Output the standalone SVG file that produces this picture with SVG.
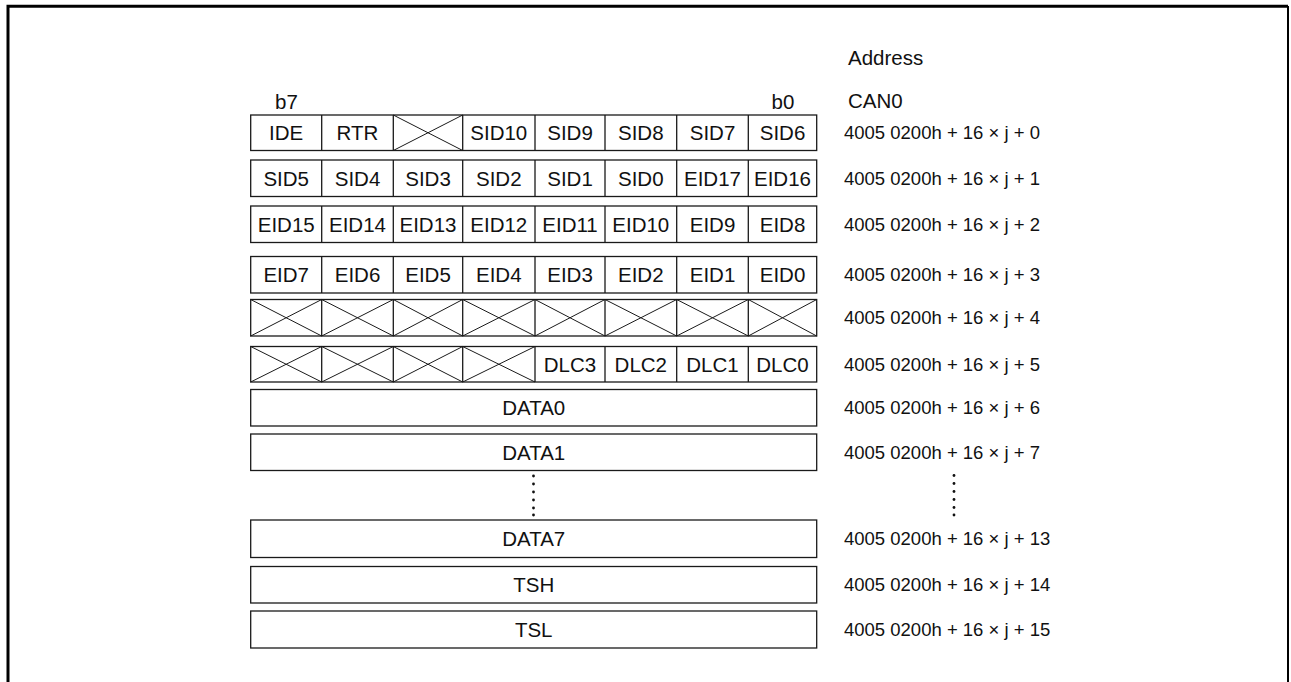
<svg xmlns="http://www.w3.org/2000/svg" width="1291" height="682" viewBox="0 0 1291 682">
<style>
.c{fill:none;stroke:#1a1a1a;stroke-width:1.3}
.x{fill:none;stroke:#1a1a1a;stroke-width:1}
.t{font-family:"Liberation Sans",Arial,sans-serif;font-size:20.5px;fill:#111;text-anchor:middle}
.l{font-family:"Liberation Sans",Arial,sans-serif;font-size:20.5px;fill:#111}
.a{font-family:"Liberation Sans",Arial,sans-serif;font-size:18.5px;fill:#111}
.d{fill:#111}
</style>
<rect width="1291" height="682" fill="#fff"/>
<g id="frame">
<path d="M8 690 V6.3 H1288" fill="none" stroke="#000" stroke-width="3"/>
<path d="M1288 6 V690" fill="none" stroke="#000" stroke-width="2"/>
</g>
<g id="headers">
<text class="l" x="275" y="109">b7</text>
<text class="l" x="771.5" y="109">b0</text>
<text class="l" x="848" y="64.5">Address</text>
<text class="l" x="848" y="107.5">CAN0</text>
</g>
<g id="row0">
<rect class="c" x="250.7" y="115" width="566" height="35.5"/>
<path class="c" d="M321.7 115V150.5M393.3 115V150.5M462.7 115V150.5M535 115V150.5M605 115V150.5M676.7 115V150.5M748.3 115V150.5"/>
<path class="x" d="M393.3 115L462.7 150.5M393.3 150.5L462.7 115"/>
<text class="t" y="140.1"><tspan x="286.2">IDE</tspan><tspan x="357.5">RTR</tspan><tspan x="498.8">SID10</tspan><tspan x="570">SID9</tspan><tspan x="640.8">SID8</tspan><tspan x="712.5">SID7</tspan><tspan x="782.5">SID6</tspan></text>
<text class="a" x="844" y="139.3">4005 0200h + 16 × j + 0</text>
</g>
<g id="row1">
<rect class="c" x="250.7" y="160" width="566" height="36.5"/>
<path class="c" d="M321.7 160V196.5M393.3 160V196.5M462.7 160V196.5M535 160V196.5M605 160V196.5M676.7 160V196.5M748.3 160V196.5"/>
<text class="t" y="185.6"><tspan x="286.2">SID5</tspan><tspan x="357.5">SID4</tspan><tspan x="428">SID3</tspan><tspan x="498.8">SID2</tspan><tspan x="570">SID1</tspan><tspan x="640.8">SID0</tspan><tspan x="712.5">EID17</tspan><tspan x="782.5">EID16</tspan></text>
<text class="a" x="844" y="184.8">4005 0200h + 16 × j + 1</text>
</g>
<g id="row2">
<rect class="c" x="250.7" y="206" width="566" height="36.5"/>
<path class="c" d="M321.7 206V242.5M393.3 206V242.5M462.7 206V242.5M535 206V242.5M605 206V242.5M676.7 206V242.5M748.3 206V242.5"/>
<text class="t" y="231.6"><tspan x="286.2">EID15</tspan><tspan x="357.5">EID14</tspan><tspan x="428">EID13</tspan><tspan x="498.8">EID12</tspan><tspan x="570">EID11</tspan><tspan x="640.8">EID10</tspan><tspan x="712.5">EID9</tspan><tspan x="782.5">EID8</tspan></text>
<text class="a" x="844" y="230.8">4005 0200h + 16 × j + 2</text>
</g>
<g id="row3">
<rect class="c" x="250.7" y="256.5" width="566" height="36.5"/>
<path class="c" d="M321.7 256.5V293M393.3 256.5V293M462.7 256.5V293M535 256.5V293M605 256.5V293M676.7 256.5V293M748.3 256.5V293"/>
<text class="t" y="282.1"><tspan x="286.2">EID7</tspan><tspan x="357.5">EID6</tspan><tspan x="428">EID5</tspan><tspan x="498.8">EID4</tspan><tspan x="570">EID3</tspan><tspan x="640.8">EID2</tspan><tspan x="712.5">EID1</tspan><tspan x="782.5">EID0</tspan></text>
<text class="a" x="844" y="281.3">4005 0200h + 16 × j + 3</text>
</g>
<g id="row4">
<rect class="c" x="250.7" y="299.5" width="566" height="36.5"/>
<path class="c" d="M321.7 299.5V336M393.3 299.5V336M462.7 299.5V336M535 299.5V336M605 299.5V336M676.7 299.5V336M748.3 299.5V336"/>
<path class="x" d="M250.7 299.5L321.7 336M250.7 336L321.7 299.5M321.7 299.5L393.3 336M321.7 336L393.3 299.5M393.3 299.5L462.7 336M393.3 336L462.7 299.5M462.7 299.5L535 336M462.7 336L535 299.5M535 299.5L605 336M535 336L605 299.5M605 299.5L676.7 336M605 336L676.7 299.5M676.7 299.5L748.3 336M676.7 336L748.3 299.5M748.3 299.5L816.7 336M748.3 336L816.7 299.5"/>
<text class="a" x="844" y="324.3">4005 0200h + 16 × j + 4</text>
</g>
<g id="row5">
<rect class="c" x="250.7" y="346.5" width="566" height="35.5"/>
<path class="c" d="M321.7 346.5V382M393.3 346.5V382M462.7 346.5V382M535 346.5V382M605 346.5V382M676.7 346.5V382M748.3 346.5V382"/>
<path class="x" d="M250.7 346.5L321.7 382M250.7 382L321.7 346.5M321.7 346.5L393.3 382M321.7 382L393.3 346.5M393.3 346.5L462.7 382M393.3 382L462.7 346.5M462.7 346.5L535 382M462.7 382L535 346.5"/>
<text class="t" y="371.6"><tspan x="570">DLC3</tspan><tspan x="640.8">DLC2</tspan><tspan x="712.5">DLC1</tspan><tspan x="782.5">DLC0</tspan></text>
<text class="a" x="844" y="370.8">4005 0200h + 16 × j + 5</text>
</g>
<g id="data0">
<rect class="c" x="250.7" y="389.5" width="566" height="36.5"/>
<text class="t" x="533.7" y="415.1">DATA0</text>
<text class="a" x="844" y="413.8">4005 0200h + 16 × j + 6</text>
</g>
<g id="data1">
<rect class="c" x="250.7" y="434" width="566" height="36.5"/>
<text class="t" x="533.7" y="459.6">DATA1</text>
<text class="a" x="844" y="458.5">4005 0200h + 16 × j + 7</text>
</g>
<g id="ellipsis">
<g class="d"><circle cx="533.5" cy="476" r="1.4"/><circle cx="533.5" cy="484" r="1.4"/><circle cx="533.5" cy="492" r="1.4"/><circle cx="533.5" cy="500" r="1.4"/><circle cx="533.5" cy="508" r="1.4"/><circle cx="533.5" cy="515" r="1.4"/></g>
<g class="d"><circle cx="954" cy="475.5" r="1.4"/><circle cx="954" cy="483.5" r="1.4"/><circle cx="954" cy="491.5" r="1.4"/><circle cx="954" cy="499.5" r="1.4"/><circle cx="954" cy="507.5" r="1.4"/><circle cx="954" cy="515" r="1.4"/></g>
</g>
<g id="data7">
<rect class="c" x="250.7" y="520" width="566" height="37.5"/>
<text class="t" x="533.7" y="546.1">DATA7</text>
<text class="a" x="844" y="545.3">4005 0200h + 16 × j + 13</text>
</g>
<g id="tsh">
<rect class="c" x="250.7" y="566.5" width="566" height="36.5"/>
<text class="t" x="533.7" y="592.1">TSH</text>
<text class="a" x="844" y="591.2">4005 0200h + 16 × j + 14</text>
</g>
<g id="tsl">
<rect class="c" x="250.7" y="611" width="566" height="37"/>
<text class="t" x="533.7" y="636.8">TSL</text>
<text class="a" x="844" y="635.5">4005 0200h + 16 × j + 15</text>
</g>
</svg>
